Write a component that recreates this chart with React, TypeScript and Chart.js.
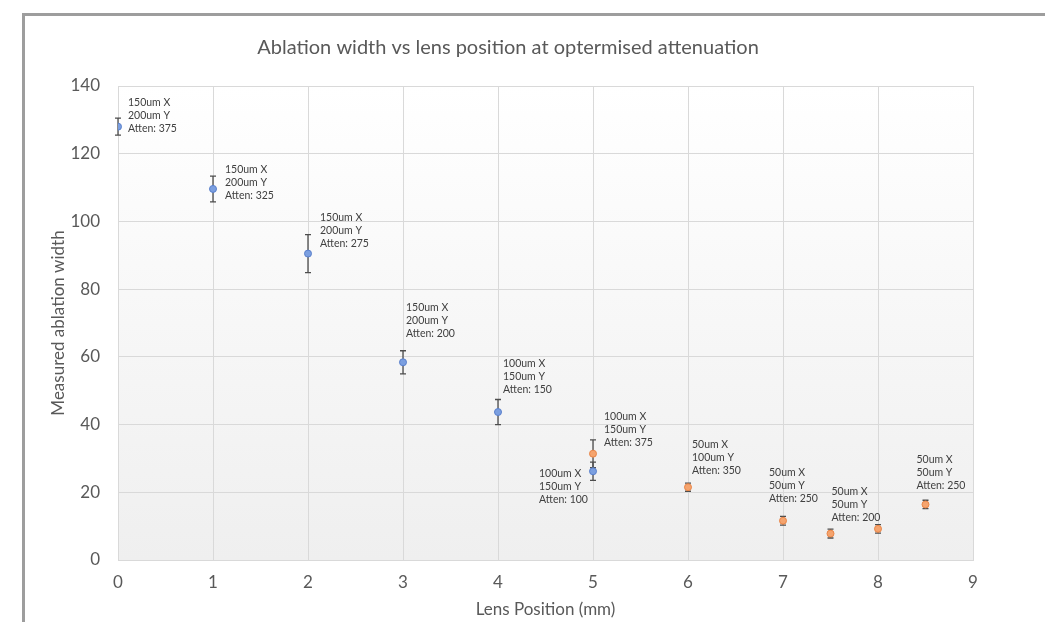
import { useEffect, useRef } from "react";
import { Chart, registerables } from "chart.js";

Chart.register(...registerables);

const FONT = "Lato, 'Open Sans', sans-serif";

const chartTitle = "Ablation width vs lens position at optermised attenuation";
const xTitle = "Lens Position (mm)";
const yTitle = "Measured ablation width";

const blueX = [0, 1, 2, 3, 4, 5];
const blueY = [128, 109.6, 90.5, 58.4, 43.7, 26.2];
const blueErr = [2.5, 3.8, 5.6, 3.4, 3.7, 2.7];
const blueLabels = [
  "150um X\n200um Y\nAtten: 375",
  "150um X\n200um Y\nAtten: 325",
  "150um X\n200um Y\nAtten: 275",
  "150um X\n200um Y\nAtten: 200",
  "100um X\n150um Y\nAtten: 150",
  "100um X\n150um Y\nAtten: 100",
];

const orangeX = [5, 6, 7, 7.5, 8, 8.5];
const orangeY = [31.4, 21.5, 11.6, 7.8, 9.2, 16.4];
const orangeErr = [4.1, 1.2, 1.3, 1.3, 1.25, 1.25];
const orangeLabels = [
  "100um X\n150um Y\nAtten: 375",
  "50um X\n100um Y\nAtten: 350",
  "50um X\n50um Y\nAtten: 250",
  "50um X\n50um Y\nAtten: 200",
  "",
  "50um X\n50um Y\nAtten: 250",
];

// label placement (pixel offset of the label's first line from its point)
const blueLabelOffsets = [
  [10, -24], [12, -19], [12, -36], [3, -55], [5, -48], [-54, 2],
];
const orangeLabelOffsets = [
  [11, -37], [4, -43], [-14, -48], [1, -42], [0, 0], [-9, -45],
];

const labelPlugin = {
  id: "extras",
  beforeDraw(chart: any) {
    const { ctx, chartArea } = chart;
    ctx.save();
    // frame
    ctx.fillStyle = "#9d9d9d";
    ctx.fillRect(22, 13, 1045 - 22, 3);
    ctx.fillRect(22, 13, 3, 622 - 13);
    // plot background gradient
    const g = ctx.createLinearGradient(0, chartArea.top, 0, chartArea.bottom);
    g.addColorStop(0, "#ffffff");
    g.addColorStop(1, "#efefef");
    ctx.fillStyle = g;
    ctx.fillRect(chartArea.left, chartArea.top, chartArea.right - chartArea.left, chartArea.bottom - chartArea.top);
    // title
    ctx.fillStyle = "#595959";
    ctx.font = `20px ${FONT}`;
    ctx.textAlign = "center";
    ctx.textBaseline = "middle";
    ctx.fillText(chartTitle, 508, 48);
    ctx.restore();
  },
  beforeDatasetsDraw(chart: any) {
    const { ctx } = chart;
    const xs = chart.scales.x;
    const ys = chart.scales.y;
    const sets = [
      { x: blueX, y: blueY, e: blueErr },
      { x: orangeX, y: orangeY, e: orangeErr },
    ];
    ctx.save();
    ctx.strokeStyle = "#4d4d4d";
    ctx.lineWidth = 1.3;
    for (const s of sets) {
      s.x.forEach((xv, i) => {
        const px = xs.getPixelForValue(xv);
        const top = ys.getPixelForValue(s.y[i] + s.e[i]);
        const bot = ys.getPixelForValue(s.y[i] - s.e[i]);
        ctx.beginPath();
        ctx.moveTo(px, top);
        ctx.lineTo(px, bot);
        ctx.moveTo(px - 3, top);
        ctx.lineTo(px + 3, top);
        ctx.moveTo(px - 3, bot);
        ctx.lineTo(px + 3, bot);
        ctx.stroke();
      });
    }
    ctx.restore();
  },
  afterDatasetsDraw(chart: any) {
    const { ctx } = chart;
    const xs = chart.scales.x;
    const ys = chart.scales.y;
    const sets = [
      { x: blueX, y: blueY, l: blueLabels, o: blueLabelOffsets },
      { x: orangeX, y: orangeY, l: orangeLabels, o: orangeLabelOffsets },
    ];
    ctx.save();
    ctx.fillStyle = "#404040";
    ctx.font = `10.5px ${FONT}`;
    ctx.textAlign = "left";
    ctx.textBaseline = "middle";
    for (const s of sets) {
      s.x.forEach((xv, i) => {
        if (!s.l[i]) return;
        const px = xs.getPixelForValue(xv) + s.o[i][0];
        const py = ys.getPixelForValue(s.y[i]) + s.o[i][1];
        s.l[i].split("\n").forEach((line, k) => {
          ctx.fillText(line, px, py + k * 13);
        });
      });
    }
    ctx.restore();
  },
};

export default function App() {
  const ref = useRef<HTMLCanvasElement>(null);
  useEffect(() => {
    document.body.style.margin = "0";
    const chart = new Chart(ref.current!, {
      type: "scatter",
      data: {
        datasets: [
          {
            label: "blue",
            data: blueX.map((x, i) => ({ x, y: blueY[i] })),
            backgroundColor: "#7b9fe0",
            borderColor: "#5a80cc",
            borderWidth: 1,
            pointRadius: 3.5,
          },
          {
            label: "orange",
            data: orangeX.map((x, i) => ({ x, y: orangeY[i] })),
            backgroundColor: "#f5a46e",
            borderColor: "#e98547",
            borderWidth: 1,
            pointRadius: 3.5,
          },
        ],
      },
      options: {
        responsive: false,
        animation: false,
        layout: { padding: { top: 86, right: 72, left: 0, bottom: 0 } },
        plugins: { legend: { display: false }, tooltip: { enabled: false } },
        scales: {
          x: {
            type: "linear",
            min: 0,
            max: 9,
            ticks: { stepSize: 1, color: "#595959", font: { family: FONT, size: 17 }, padding: 12 },
            grid: { color: "#d9d9d9", drawTicks: false },
            border: { color: "#d9d9d9" },
            title: {
              display: true,
              text: xTitle,
              color: "#595959",
              font: { family: FONT, size: 17 },
              padding: { top: 0, bottom: 2 },
            },
            afterFit: (s: any) => {
              s.height = 62;
            },
          },
          y: {
            min: 0,
            max: 140,
            ticks: { stepSize: 20, color: "#595959", font: { family: FONT, size: 17 }, padding: 18 },
            grid: { color: "#d9d9d9", drawTicks: false },
            border: { color: "#d9d9d9" },
            title: {
              display: true,
              text: yTitle,
              color: "#595959",
              font: { family: FONT, size: 17 },
              padding: { top: 48, bottom: 0 },
            },
            afterFit: (s: any) => {
              s.width = 118;
            },
          },
        },
      },
      plugins: [labelPlugin],
    });
    return () => chart.destroy();
  }, []);
  return <canvas ref={ref} width={1045} height={622} style={{ display: "block" }} />;
}
